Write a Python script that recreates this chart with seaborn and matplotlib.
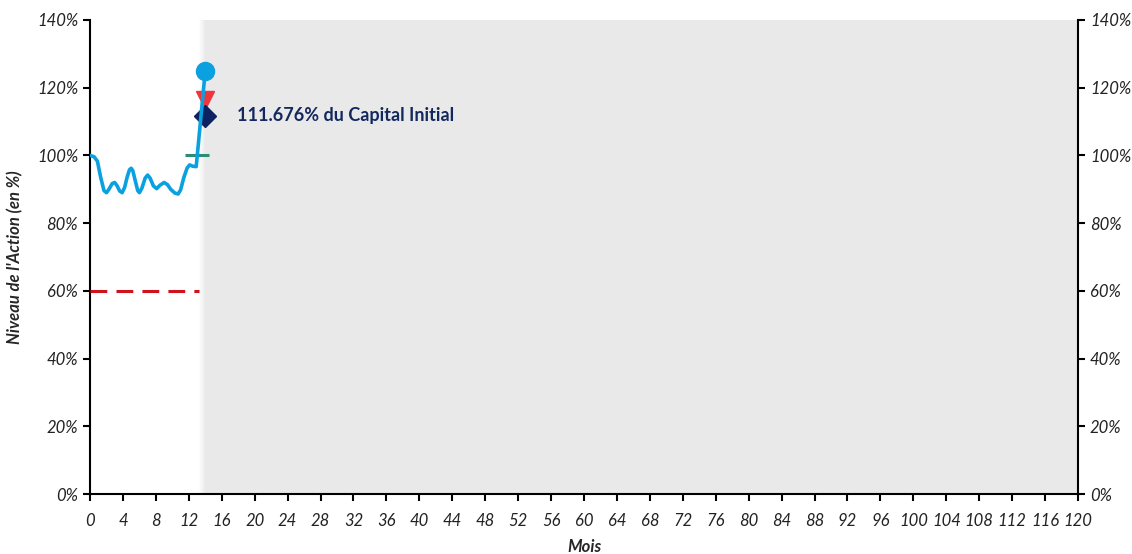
import numpy as np
import pandas as pd
import matplotlib
matplotlib.use("Agg")
import matplotlib.pyplot as plt
import seaborn as sns
from matplotlib.ticker import FuncFormatter

# level of the share (in % of initial level)
months = [0, 0.5, 0.9, 1.3, 1.7, 2.0, 2.3, 2.7, 3.0, 3.3, 3.6, 3.9, 4.2, 4.5, 4.8, 5.0,
          5.2, 5.5, 5.8, 6.0, 6.3, 6.7, 7.0, 7.3, 7.7, 8.1, 8.5, 9.0, 9.4, 9.8, 10.3,
          10.7, 11.0, 11.4, 11.8, 12.1, 12.5, 12.9, 14]
level = [100, 99.6, 98.3, 93.5, 89.6, 89.0, 90.0, 91.7, 92.0, 91.0, 89.5, 89.0, 90.5,
         93.5, 95.8, 96.2, 95.5, 92.5, 89.6, 89.0, 90.3, 93.3, 94.2, 93.3, 91.0, 90.2,
         91.2, 92.0, 91.4, 90.0, 88.9, 88.6, 89.8, 93.5, 96.3, 97.2, 96.8, 96.7, 125]

barrier_x = [0, 13.2]
barrier_y = [60, 60]

final_month = 14
final_level = 125
coupon_level = 116.3
capital_level = 111.676
ref_month = 13
ref_level = 100

x_max = 120
y_max = 140
annot = "111.676% du Capital Initial"

sns.set_style("white")
plt.rcParams["font.family"] = ["Lato", "DejaVu Sans"]

fig = plt.figure(figsize=(11.32, 5.54), dpi=100)
ax = fig.add_axes([0.0795, 0.1083, 0.8728, 0.8556])

# grey zone for the remaining months, with a soft left edge
ax.axvspan(final_month, x_max, color="#e9e9e9", lw=0, zorder=0)
edge = np.linspace(13.3, final_month, 8)
for i in range(len(edge) - 1):
    ax.axvspan(edge[i], edge[i + 1], color="#e9e9e9", alpha=(i + 1) / 8, lw=0, zorder=0)

df = pd.DataFrame({"mois": months, "niveau": level})
sns.lineplot(data=df, x="mois", y="niveau", ax=ax, color="#0ba0df", lw=2.6, zorder=5)

ax.plot(barrier_x, barrier_y, color="#d0121b", lw=2.2, ls=(0, (5.5, 3)), zorder=3)
ax.plot([ref_month], [ref_level], marker="_", color="#2e8b74", ms=17, mew=2.2, zorder=4)
ax.plot([final_month], [coupon_level], marker="v", color="#f0363c", ms=13, zorder=4)
ax.plot([final_month], [capital_level], marker="D", color="#0d2260", ms=11, zorder=4)
ax.plot([final_month], [final_level], marker="o", color="#0ba0df", ms=13, zorder=6)

ax.text(17.8, capital_level, annot, color="#13285e", fontsize=13, fontweight="bold",
        va="center", ha="left")

ax.set_xlim(0, x_max)
ax.set_ylim(0, y_max)
ax.set_xticks(np.arange(0, x_max + 1, 4))
ax.set_yticks(np.arange(0, y_max + 1, 20))
ax.yaxis.set_major_formatter(FuncFormatter(lambda v, p: f"{int(v)}%"))

ax.tick_params(axis="both", direction="out", length=5, width=1.5, color="black",
               labelsize=12, labelcolor="#222222")
ax.tick_params(axis="y", left=True, right=True, labelleft=True, labelright=True)
ax.tick_params(axis="x", bottom=True, pad=9)
for lab in ax.get_xticklabels():
    lab.set_style("italic")
for t in ax.yaxis.get_major_ticks():
    t.label1.set_style("italic")
    t.label2.set_style("italic")

for side in ["left", "right", "bottom"]:
    ax.spines[side].set_visible(True)
    ax.spines[side].set_color("black")
    ax.spines[side].set_linewidth(1.5)
ax.spines["top"].set_visible(False)

ax.set_xlabel("Mois", fontsize=12, fontweight="bold", style="italic", labelpad=7)
ax.set_ylabel("Niveau de l'Action (en %)", fontsize=12, fontweight="bold", style="italic",
              labelpad=10)

fig.savefig("out.png", dpi=100)
